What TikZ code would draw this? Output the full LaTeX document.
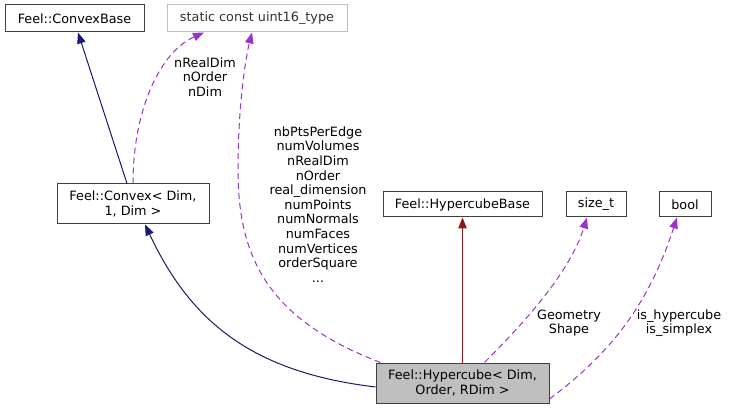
\documentclass[tikz,border=0pt]{standalone}
\usepackage{fontspec}
\setmainfont{DejaVu Sans}
\usetikzlibrary{arrows.meta}
\definecolor{navyc}{HTML}{191970}
\definecolor{orchidc}{HTML}{9A32CD}
\definecolor{redc}{HTML}{8B1A1A}
\definecolor{boxgray}{HTML}{404040}
\definecolor{lightbord}{HTML}{BFBFBF}
\definecolor{fillgray}{HTML}{BFBFBF}
\tikzset{
  every node/.style={font=\fontsize{12.8}{14.6}\selectfont},
  cls/.style={draw=boxgray, line width=1pt, fill=white, inner sep=0pt, align=center},
  ext/.style={draw=lightbord, line width=1pt, fill=white, inner sep=0pt, align=center, text=black!80},
  inh/.style={-{Triangle[length=11pt,width=8.5pt,fill=navyc]}, draw=navyc, line width=1pt},
  inhred/.style={-{Triangle[length=11pt,width=8.5pt,fill=redc]}, draw=redc, line width=1pt},
  usage/.style={-{Triangle[length=11pt,width=8.5pt,fill=orchidc]}, draw=orchidc, line width=1pt, dash pattern=on 6pt off 4pt},
  lbl/.style={align=center, inner sep=0pt}
}
\begin{document}
\begin{tikzpicture}[x=1pt,y=-1pt]
\useasboundingbox (0,0) rectangle (729,409);
\node[cls, minimum width=139pt, minimum height=27pt] (cb) at (74.5,18.5) {Feel::ConvexBase};
\node[ext, minimum width=180pt, minimum height=27pt] (u16) at (257,18.5) {static const uint16\_type};
\node[cls, minimum width=152pt, minimum height=40pt] (cvx) at (133,204) {Feel::Convex< Dim,\\1, Dim >};
\node[cls, minimum width=159pt, minimum height=25pt] (hb) at (462.5,204.5) {Feel::HypercubeBase};
\node[cls, minimum width=60pt, minimum height=25pt] (st) at (596,204.5) {size\_t};
\node[cls, minimum width=52pt, minimum height=25pt] (bl) at (685,204.5) {bool};
\node[cls, fill=fillgray, minimum width=173pt, minimum height=40pt] (hc) at (462.5,383) {Feel::Hypercube< Dim,\\Order, RDim >};

% ConvexBase <- Convex
\draw[inh] ([xshift=-6pt]cvx.north) -- ([xshift=3.5pt]cb.south);
% uint16 <- Convex
\draw[usage] (cvx.north) .. controls (133,110) and (160,52) .. ([xshift=-53pt]u16.south);
\node[lbl] (l1) at (205,77) {nRealDim\\nOrder\\nDim};
% Convex <- Hypercube
\draw[inh] ([yshift=-4pt]hc.west) .. controls (250,372) and (190,320) .. ([xshift=12pt]cvx.south);
% uint16 <- Hypercube
\draw[usage] ([xshift=-82pt]hc.north) .. controls (270,320) and (238,260) .. (238,170) .. controls (238,100) and (247,52) .. ([xshift=-5pt]u16.south);
\node[lbl] (l2) at (318,204.5) {nbPtsPerEdge\\numVolumes\\nRealDim\\nOrder\\real\_dimension\\numPoints\\numNormals\\numFaces\\numVertices\\orderSquare\\...};
% HypercubeBase <- Hypercube
\draw[inhred] (hc.north) -- (hb.south);
% size_t <- Hypercube
\draw[usage] ([xshift=22pt]hc.north) .. controls (525,322) and (570,272) .. ([xshift=-9pt]st.south);
\node[lbl] (l3) at (569,323) {Geometry\\Shape};
% bool <- Hypercube
\draw[usage] ([yshift=-16pt]hc.east) .. controls (615,350) and (650,300) .. ([xshift=-8pt]bl.south);
\node[lbl] (l4) at (679,323) {is\_hypercube\\is\_simplex};
\end{tikzpicture}
\end{document}
